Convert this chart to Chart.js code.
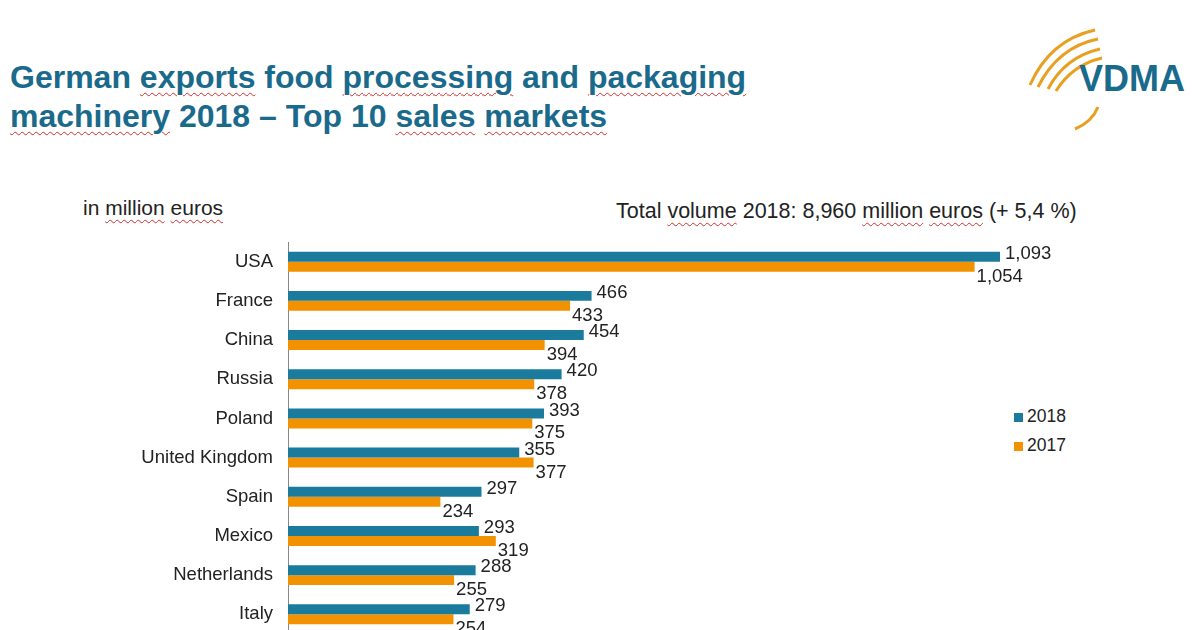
<!DOCTYPE html>
<html><head><meta charset="utf-8">
<script src="https://cdn.jsdelivr.net/npm/chart.js@4"></script>
<style>
body{margin:0;width:1200px;height:630px;overflow:hidden;background:#fff;font-family:"Liberation Sans",Arial,sans-serif;position:relative}
.sq{text-decoration:underline wavy #d03030;text-decoration-thickness:1px;text-underline-offset:4px}
#title{position:absolute;left:10px;top:58px;font-size:32px;font-weight:bold;color:#1a6a8c;line-height:39px}
#unit{position:absolute;left:83px;top:196px;font-size:21px;color:#222}
#total{position:absolute;left:616px;top:199px;font-size:21.5px;color:#222}
#c{position:absolute;left:0;top:216px}
.leg{position:absolute;left:1014px;font-size:17.5px;color:#222}
.leg i{display:inline-block;width:9px;height:9px;margin-right:4px}
</style></head><body>
<div id="title"><span>German <span class="sq">exports</span> food <span class="sq">processing</span> and <span class="sq">packaging</span><br><span class="sq">machinery</span> 2018 – Top 10 <span class="sq">sales</span> <span class="sq">markets</span></span></div>
<div id="unit">in <span class="sq">million</span> <span class="sq">euros</span></div>
<div id="total">Total <span class="sq">volume</span> 2018: 8,960 <span class="sq">million</span> <span class="sq">euros</span> (+ 5,4 %)</div>
<svg style="position:absolute;left:1020px;top:25px" width="180" height="110">
<g fill="none" stroke="#e8a020" stroke-width="3">
<path d="M10 60 Q30 15 75 5"/><path d="M18 62 Q38 22 78 14"/><path d="M28 64 Q45 32 80 24"/><path d="M36 66 Q52 40 82 33"/>
<path d="M78 82 Q72 97 55 104"/>
</g>
<text x="59" y="66" font-family="Liberation Sans,Arial" font-weight="bold" font-size="36" fill="#1a6a8c">VDMA</text>
</svg>
<div class="leg" style="top:406px"><i style="background:#1b7b9c"></i>2018</div>
<div class="leg" style="top:435px"><i style="background:#f39200"></i>2017</div>
<canvas id="c" width="1200" height="444"></canvas>
<script>
const categories=["USA","France","China","Russia","Poland","United Kingdom","Spain","Mexico","Netherlands","Italy"];
const v2018=[1093,466,454,420,393,355,297,293,288,279];
const v2017=[1054,433,394,378,375,377,234,319,255,254];
const fmt=v=>v.toLocaleString('en-US');
const labels={id:'lbl',afterDatasetsDraw(ch){const c=ch.ctx;c.save();c.font='18.5px "Liberation Sans", Arial';c.fillStyle='#222';c.textBaseline='middle';
ch.getDatasetMeta(0).data.forEach((b,i)=>{c.fillText(fmt(v2018[i]),b.x+5,b.y-3);});
ch.getDatasetMeta(1).data.forEach((b,i)=>{c.fillText(fmt(v2017[i]),b.x+2,b.y+10);});c.restore();}};
new Chart(document.getElementById('c'),{type:'bar',
data:{labels:categories,datasets:[{data:v2018,backgroundColor:'#1b7b9c'},{data:v2017,backgroundColor:'#f39200'}]},
options:{indexAxis:'y',responsive:false,animation:false,devicePixelRatio:1,
datasets:{bar:{barPercentage:1,categoryPercentage:0.51}},
layout:{padding:0},
plugins:{legend:{display:false},tooltip:{enabled:false}},
scales:{x:{min:0,max:1400,display:false},
y:{afterFit(s){s.width=288;},grid:{display:false,drawTicks:false},border:{color:'#888'},
ticks:{padding:15,color:'#222',font:{size:18.5,family:'"Liberation Sans", Arial'}}}}},
plugins:[labels]});
</script></body></html>
